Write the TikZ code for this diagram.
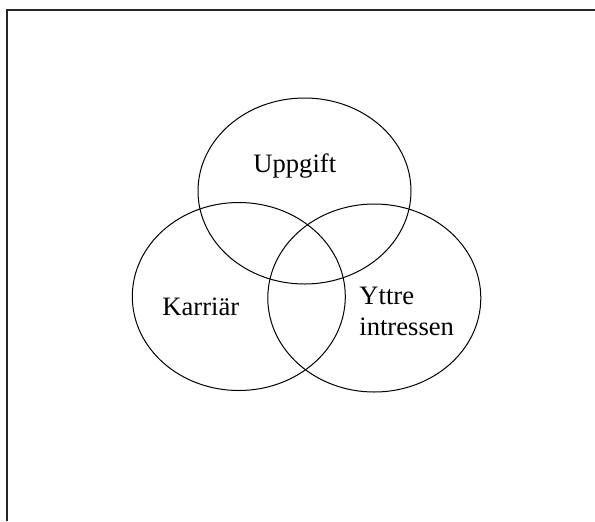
\documentclass[tikz,border=0pt]{standalone}
\usepackage{fontspec}
\setmainfont{Liberation Serif}
\usetikzlibrary{shapes.geometric}

\begin{document}
\begin{tikzpicture}[
  x=0.5pt, y=-0.5pt,
  frame/.style={line width=1pt, black!85},
  area/.style={ellipse, draw, line width=0.5pt, minimum width=106.5pt, minimum height=94pt, inner sep=0pt},
  label/.style={font=\fontsize{13.3}{15.4}\selectfont, inner sep=0pt, align=left},
]
\useasboundingbox (0,0) rectangle (595,521);

% Frame (only top and left edges visible)
\coordinate (fb) at (7,521);
\coordinate (fc) at (7,10);
\coordinate (fr) at (595,10);
\draw[frame] (fb) -- (fc) -- (fr);

% Circles
\node[area, minimum height=93pt] (uppgift) at (304.5,191) {};
\node[area] (karriar) at (238.8,296.5) {};
\node[area] (yttre) at (374.3,298) {};

% Labels
\node[label, anchor=base west] (tU) at (253,172.5) {Uppgift};
\node[label, anchor=base west] (tK) at (162,315.7) {Karriär};
\node[label, anchor=north west] (tY) at (359,286.5) {Yttre\\intressen};

\end{tikzpicture}
\end{document}
